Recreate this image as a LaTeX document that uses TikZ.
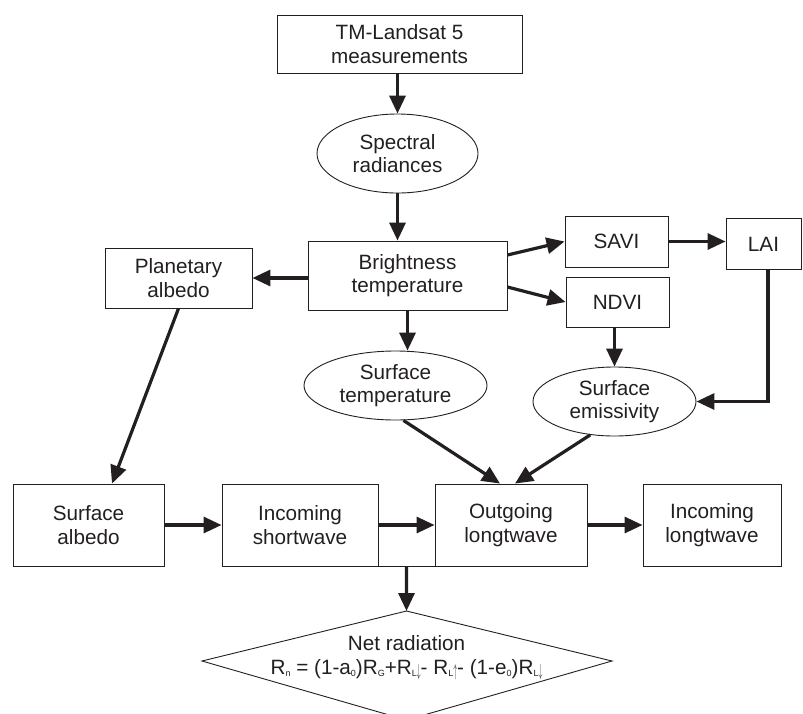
\documentclass[tikz,border=0pt]{standalone}
\usepackage{fontspec}
\setmainfont{Liberation Sans}
\usetikzlibrary{shapes.geometric,arrows.meta,calc}
\definecolor{ink}{HTML}{231F20}
\newcommand\mysb[1]{\raisebox{-2.5pt}{\fontsize{9}{9}\selectfont #1}}
\newcommand\mydn{\raisebox{-2pt}{\scalebox{0.45}[1]{\fontsize{16}{16}\selectfont$\downarrow$}}}
\newcommand\myup{\raisebox{-2pt}{\scalebox{0.45}[1]{\fontsize{16}{16}\selectfont$\uparrow$}}}
\begin{document}
\begin{tikzpicture}[x=1pt,y=-1pt,
  every node/.style={text=ink, font=\fontsize{20.7}{23.5}\selectfont, align=center, inner sep=0pt},
  box/.style={draw=ink, line width=0.9pt, rectangle},
  oval/.style={draw=ink, line width=0.9pt, ellipse},
  arr/.style={draw=ink, line width=3.2pt, -{Triangle[length=18pt,width=16pt]}},
  ln/.style={draw=ink, line width=0.9pt}]
\clip (0,0) rectangle (803,713);
% nodes
\node[box, minimum width=245pt, minimum height=58pt] (tm) at (399.5,44) {TM-Landsat 5\\measurements};
\node[oval, minimum width=161pt, minimum height=79pt] (spec) at (397.5,153.5) {Spectral\\radiances};
\node[box, minimum width=199pt, minimum height=69pt] (bt) at (407.5,275.5) {Brightness\\temperature};
\node[box, minimum width=147pt, minimum height=60pt] (pa) at (178.5,278) {Planetary\\albedo};
\node[box, minimum width=103pt, minimum height=51pt] (savi) at (616.5,241.5) {SAVI};
\node[box, minimum width=103pt, minimum height=50pt] (ndvi) at (617.5,302) {NDVI};
\node[box, minimum width=75pt, minimum height=51pt] (lai) at (763.5,244) {LAI};
\node[oval, minimum width=183pt, minimum height=69pt] (stemp) at (395.5,385.5) {Surface\\temperature};
\node[oval, minimum width=163pt, minimum height=69pt] (semis) at (614.5,401.5) {Surface\\emissivity};
\node[box, minimum width=151pt, minimum height=82pt] (sa) at (88.5,525) {Surface\\albedo};
\node[box, minimum width=156pt, minimum height=82pt] (isw) at (300,525) {Incoming\\shortwave};
\node[box, minimum width=152pt, minimum height=82pt] (olw) at (511,525) {Outgoing\\longtwave};
\node[box, minimum width=138pt, minimum height=82pt] (ilw) at (712,525) {Incoming\\longtwave};
% diamond
\coordinate (dtop) at (406.5,611);
\coordinate (dright) at (612,661);
\coordinate (dbot) at (406.5,720);
\coordinate (dleft) at (202,661);
\draw[ln] (dtop) -- (dright) -- (dbot) -- (dleft) -- cycle;
\node[anchor=base] (net) at (406.5,650) {Net radiation};
\node[anchor=base] (form) at (406.5,674) {R\mysb{n} = (1-a\mysb{0})R\mysb{G}+R\mysb{L}\mydn- R\mysb{L}\myup- (1-e\mysb{0})R\mysb{L}\mydn};
% connectors
\draw[arr] (spec.north |- tm.south) -- (spec.north);
\draw[arr] (spec.south) -- (spec.south |- bt.north);
\draw[arr] (pa.east -| bt.west) -- (pa.east);
\draw[arr] ([yshift=20.5pt]bt.east) -- (savi.west);
\draw[arr] ([yshift=-11.5pt]bt.east) -- (ndvi.west);
\draw[arr] (savi.east) -- (savi.east -| lai.west);
\draw[arr] (semis.north |- ndvi.south) -- (semis.north);
\draw[arr] ([xshift=4.5pt]lai.south) |- (semis.east);
\draw[arr] (bt.south) -- (bt.south |- stemp.north);
\draw[arr] ([xshift=8pt]stemp.south) -- ([xshift=-11pt]olw.north);
\draw[arr] (semis.234) -- ([xshift=4pt]olw.north);
\draw[arr] (pa.south) -- ([xshift=23.5pt]sa.north);
\draw[arr] (sa.east) -- (isw.west);
\draw[arr] (isw.east) -- (olw.west);
\draw[arr] (olw.east) -- (ilw.west);
\draw[ln] (isw.south east) -- (olw.south west);
\coordinate (bmid) at ($(isw.south east)!0.5!(olw.south west)$);
\draw[arr] (bmid) -- (dtop);
\end{tikzpicture}
\end{document}
